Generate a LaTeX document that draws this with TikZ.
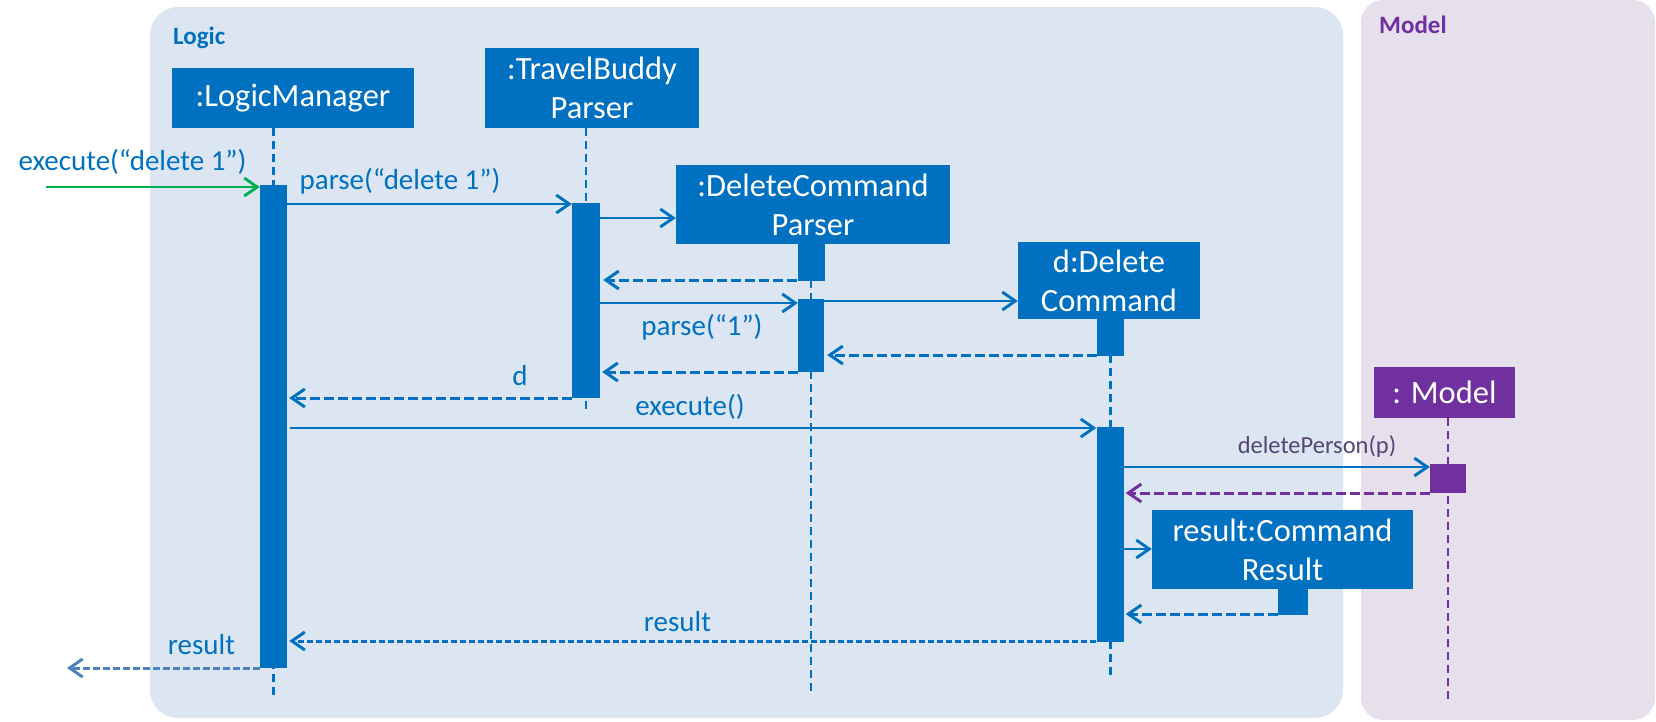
\documentclass[tikz,border=0pt]{standalone}
\usepackage{fontspec}
\setmainfont{Carlito}
\usetikzlibrary{arrows.meta}
\definecolor{ublue}{HTML}{0070C0}
\definecolor{upurple}{HTML}{7030A0}
\definecolor{logicbg}{HTML}{DCE6F2}
\definecolor{modelbg}{HTML}{E6E0EC}
\definecolor{ugreen}{HTML}{00B050}
\definecolor{dpurple}{RGB}{85,70,120}
\definecolor{lblue}{HTML}{4F81BD}
\begin{document}
\begin{tikzpicture}[x=1pt,y=-1pt,
  obj/.style={fill=ublue, text=white, inner sep=0pt, align=center, font=\fontsize{32.5}{39}\selectfont},
  actbar/.style={fill=ublue, inner sep=0pt},
  life/.style={draw=ublue, line width=2.3pt, dash pattern=on 8pt off 5pt},
  msg/.style={draw=ublue, line width=2.9pt, -{Straight Barb[length=13pt,width=18pt]}},
  ret/.style={msg, line width=3pt, dash pattern=on 10pt off 4pt},
  lbl/.style={text=ublue, inner sep=0pt, font=\fontsize{29}{34}\selectfont},
  title/.style={inner sep=0pt, anchor=west, font=\fontsize{25}{30}\selectfont\bfseries}]
\useasboundingbox (0,0) rectangle (1656,721);
% panels
\fill[logicbg, rounded corners=28pt] (150,7) rectangle (1343,718);
\fill[modelbg, rounded corners=22pt] (1361,0) rectangle (1655,720);
\node[title, text=ublue] (tlogic) at (173,38) {Logic};
\node[title, text=upurple] (tmodel) at (1379,25) {Model};
% objects
\node[obj, minimum width=242pt, minimum height=60pt] (lm) at (293,98) {:LogicManager};
\node[obj, minimum width=214pt, minimum height=80pt] (tb) at (592,88) {:TravelBuddy\\Parser};
\node[obj, minimum width=274pt, minimum height=79pt] (dcp) at (813,204.5) {:DeleteCommand\\Parser};
\node[obj, minimum width=182pt, minimum height=77pt] (dc) at (1109,280.5) {d:Delete\\Command};
\node[obj, fill=upurple, minimum width=141pt, minimum height=51pt] (mdl) at (1444.5,392.5) {: Model};
\node[obj, minimum width=261pt, minimum height=79pt] (cr) at (1282.5,549.5) {result:Command\\Result};
% activation bars (positions)
\coordinate (lmX) at (273.5,0);
\coordinate (tbX) at (586,0);
\coordinate (dcpX) at (811,0);
\coordinate (dcX) at (1110.5,0);
\coordinate (mX) at (1448,0);
% lifelines
\draw[life] (lmX |- lm.south) -- (lmX |- 0,700);
\draw[life] (tbX |- tb.south) -- (tbX |- 0,413);
\draw[life] (dcpX |- 0,280) -- (dcpX |- 0,692);
\draw[life] (dcX |- 0,355) -- (dcX |- 0,678);
\draw[life, draw=upurple] (mX |- mdl.south) -- (mX |- 0,700);
% bars
\node[actbar, minimum width=27pt, minimum height=483pt] (lmA) at (273.5,426.5) {};
\node[actbar, minimum width=28pt, minimum height=195pt] (tbA) at (586,300.5) {};
\node[actbar, minimum width=27pt, minimum height=37pt, anchor=north] (dcpA) at (dcp.south -| dcpX) {};
\node[actbar, minimum width=26pt, minimum height=73pt] (dcpB) at (811,335.5) {};
\node[actbar, minimum width=27pt, minimum height=37pt, anchor=north] (dcA) at (dc.south -| dcX) {};
\node[actbar, minimum width=27pt, minimum height=215pt] (dcB) at (1110,534.5) {};
\node[actbar, fill=upurple, minimum width=36pt, minimum height=29pt] (mA) at (1448,478.5) {};
\node[actbar, minimum width=30pt, minimum height=26pt, anchor=north] (crA) at (cr.south -| 1293,0) {};
% messages
\coordinate (ext) at (46,187);
\draw[msg, draw=ugreen] (ext) -- (ext -| lmA.west);
\node[lbl] (lext) at (132.5,162) {execute(“delete 1”)};
\coordinate (a1) at (lmA.east |- 0,204);
\draw[msg] (a1) -- (a1 -| tbA.west);
\node[lbl] (la1) at (400,181) {parse(“delete 1”)};
\coordinate (a2) at (tbA.east |- 0,218);
\draw[msg] (a2) -- (a2 -| dcp.west);
\coordinate (r1) at (dcpA.west |- 0,280);
\draw[ret] (r1) -- ([xshift=3pt]r1 -| tbA.east);
\coordinate (a3) at (tbA.east |- 0,303);
\draw[msg] (a3) -- (a3 -| dcpB.west);
\node[lbl] (la3) at (702,327) {parse(“1”)};
\coordinate (a4) at (dcpB.east |- 0,301);
\draw[msg] (a4) -- (a4 -| dc.west);
\coordinate (r2) at (dcA.west |- 0,355);
\draw[ret] (r2) -- ([xshift=3pt]r2 -| dcpB.east);
\coordinate (r3) at (dcpB.west |- 0,372);
\draw[ret] (r3) -- ([xshift=2pt]r3 -| tbA.east);
\coordinate (r4) at (tbA.west |- 0,398);
\draw[ret] (r4) -- ([xshift=2pt]r4 -| lmA.east);
\node[lbl] (lr4) at (520,376) {d};
\coordinate (a5) at ([xshift=3pt]lmA.east |- 0,428);
\draw[msg] (a5) -- (a5 -| dcB.west);
\node[lbl] (la5) at (690,407) {execute()};
\coordinate (a6) at (dcB.east |- 0,467);
\draw[msg] (a6) -- (a6 -| mA.west);
\node[lbl, text=dpurple, font=\fontsize{24.5}{29}\selectfont] (la6) at (1317,447) {deletePerson(p)};
\coordinate (r5) at (mA.west |- 0,493);
\draw[ret, draw=upurple] (r5) -- ([xshift=2pt]r5 -| dcB.east);
\coordinate (a7) at (dcB.east |- 0,549);
\draw[msg] (a7) -- (a7 -| cr.west);
\coordinate (r6) at (crA.west |- 0,614);
\draw[ret] (r6) -- ([xshift=2pt]r6 -| dcB.east);
\coordinate (r7) at (dcB.west |- 0,641);
\draw[ret, dash pattern=on 6pt off 3pt] (r7) -- ([xshift=2pt]r7 -| lmA.east);
\node[lbl] (lr7) at (677.5,621.5) {result};
\coordinate (r8) at (lmA.west |- 0,668);
\coordinate (out) at (67,668);
\draw[ret, draw=lblue, dash pattern=on 7pt off 3pt] (r8) -- (out);
\node[lbl] (lr8) at (201.5,645) {result};
\end{tikzpicture}
\end{document}
